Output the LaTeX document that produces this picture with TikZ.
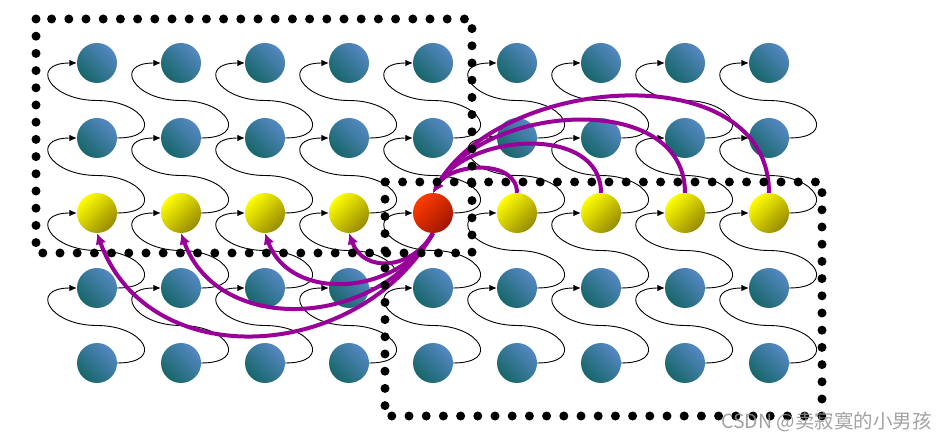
\documentclass[tikz,border=0pt]{standalone}
\usepackage{fontspec}
\newfontfamily\cjk{Noto Sans CJK SC}
\usetikzlibrary{arrows.meta,calc}
\definecolor{blueL}{RGB}{84,136,194}
\definecolor{blueD}{RGB}{24,102,106}
\definecolor{yelL}{RGB}{255,255,0}
\definecolor{yelD}{RGB}{150,138,0}
\definecolor{redL}{RGB}{255,60,0}
\definecolor{redD}{RGB}{160,22,0}
\definecolor{purp}{RGB}{153,0,153}
\begin{document}
\begin{tikzpicture}[x=1pt,y=1pt,
  ball/.style={circle, minimum size=40pt, inner sep=0pt, draw=none},
  blueball/.style={ball, top color=blueL, bottom color=blueD, shading angle=-45},
  yelball/.style={ball, top color=yelL, bottom color=yelD, shading angle=45},
  redball/.style={ball, top color=redL, bottom color=redD, shading angle=45},
  thinarr/.style={line width=0.9pt, -{Latex[length=7.5pt,width=6.5pt]}},
  purparr/.style={draw=purp, line width=4pt, -{Latex[length=11pt,width=11pt]}},
  dotbox/.style={line width=9pt, line cap=round, dash pattern=on 0pt off 17.2pt}
]
\useasboundingbox (0,0) rectangle (948,442);
\fill[white] (0,0) rectangle (948,442);

% circles
\foreach \r in {1,2,4,5}
  \foreach \c in {1,...,9}
    \node[blueball] (n\r\c) at ({97+84*(\c-1)},{379-75*(\r-1)}) {};
\foreach \c in {1,2,3,4,6,7,8,9}
  \node[yelball] (n3\c) at ({97+84*(\c-1)},229) {};
\node[redball] (n35) at (433,229) {};

% thin black S-shaped arrows
\foreach \c in {1,...,9}
  \foreach \r/\s in {1/2,2/3,3/4,4/5}
    \draw[thinarr] (n\s\c.east) .. controls +(48,0) and +(48,0) ..
      ($(n\s\c.east)!0.5!(n\r\c.west)$) .. controls +(-48,0) and +(-48,0) .. (n\r\c.west);

% purple arrows to the red ball
\foreach \c in {6,...,9}
  \draw[purparr] (n3\c.north) to[out=90,in=60,looseness=1.05] (n35.north);
% purple arrows from the red ball
\foreach \c/\l in {1/1.15,2/1.12,3/1.12,4/1.3}
  \draw[purparr] (n35.south) to[out=240,in=-70,looseness=\l] (n3\c.south);

% dotted boxes
\draw[dotbox] (36,423) rectangle (472,189);
\draw[dotbox] (385,260) rectangle (822,26);

% watermark
\node[anchor=base east, text=gray!85, opacity=0.85, inner sep=0pt,
      font=\cjk\fontsize{19.5}{19.5}\selectfont] (wm) at (932,13) {CSDN @卖寂寞的小男孩};
\end{tikzpicture}
\end{document}
